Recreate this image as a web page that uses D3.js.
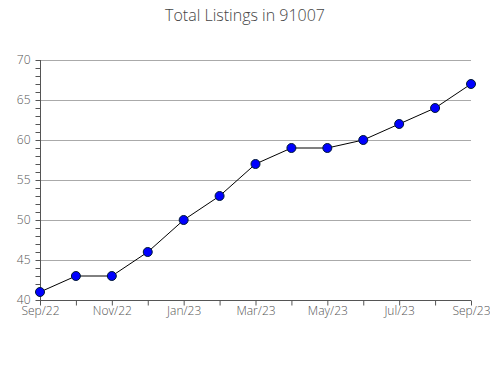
<!DOCTYPE html>
<html>
<head>
<meta charset="utf-8">
<script src="https://cdn.jsdelivr.net/npm/d3@7"></script>
<style>
  body { margin: 0; background: #fff; }
  text { font-family: "Open Sans", sans-serif; }
</style>
</head>
<body>
<div id="chart"></div>
<script>
var months = ["Sep/22", "Oct/22", "Nov/22", "Dec/22", "Jan/23", "Feb/23", "Mar/23",
              "Apr/23", "May/23", "Jun/23", "Jul/23", "Aug/23", "Sep/23"];
var listings = [41, 43, 43, 46, 50, 53, 57, 59, 59, 60, 62, 64, 67];
var yTicks = [40, 45, 50, 55, 60, 65, 70];

var W = 490, H = 380;
var margin = { top: 60, right: 19, bottom: 80, left: 40 },
    width  = W - margin.left - margin.right,
    height = H - margin.top - margin.bottom;

var svg = d3.select("#chart")
  .append("svg")
    .attr("width", W)
    .attr("height", H);

svg.append("text")
    .attr("x", W / 2)
    .attr("y", 21)
    .attr("text-anchor", "middle")
    .style("font-size", "16px")
    .style("font-weight", 300)
    .style("fill", "#444")
    .text("Total Listings in 91007");

var g = svg.append("g")
    .attr("transform", "translate(" + margin.left + "," + margin.top + ")");

var x = d3.scalePoint().domain(months).range([0, width]);
var y = d3.scaleLinear().domain([40, 70]).range([height, 0]);

// gridlines
g.selectAll(".grid")
  .data(yTicks.slice(1))
  .enter()
  .append("line")
    .attr("class", "grid")
    .attr("x1", 0)
    .attr("x2", width)
    .attr("y1", function(d) { return Math.round(y(d)) + 0.5; })
    .attr("y2", function(d) { return Math.round(y(d)) + 0.5; })
    .style("stroke", "#aaa")
    .style("stroke-width", 1);

// y axis, minor ticks every unit
var yAxis = g.append("g")
    .attr("transform", "translate(0.5,0)")
    .call(d3.axisLeft(y).tickValues(d3.range(40, 71, 1)).tickSize(5)
      .tickFormat(function(d) { return d % 5 === 0 ? d : ""; }));

// x axis, tick every month, label every two
var xAxis = g.append("g")
    .attr("transform", "translate(0," + (height + 0.5) + ")")
    .call(d3.axisBottom(x).tickSize(5)
      .tickFormat(function(d, i) { return i % 2 === 0 ? d : ""; }));

[yAxis, xAxis].forEach(function(a) {
  a.select(".domain").style("stroke", "#555");
  a.selectAll(".tick line").style("stroke", "#555");
  a.selectAll(".tick text")
    .style("font-family", "'Open Sans', sans-serif")
    .style("font-size", "12px")
    .style("font-weight", 300)
    .style("fill", "#555");
});
yAxis.select(".domain").attr("d", "M0," + height + "V0");
xAxis.select(".domain").attr("d", "M0,0H" + width);
yAxis.selectAll(".tick text").attr("x", -10);
xAxis.selectAll(".tick text").attr("y", 6);

var line = d3.line()
    .x(function(d, i) { return x(months[i]); })
    .y(function(d) { return y(d); });

g.append("path")
    .datum(listings)
    .attr("d", line)
    .style("fill", "none")
    .style("stroke", "#000")
    .style("stroke-width", 1);

g.selectAll(".dot")
  .data(listings)
  .enter()
  .append("circle")
    .attr("class", "dot")
    .attr("cx", function(d, i) { return x(months[i]); })
    .attr("cy", function(d) { return y(d); })
    .attr("r", 4.5)
    .style("fill", "#0000ff")
    .style("stroke", "#001a33")
    .style("stroke-width", 1);
</script>
</body>
</html>
